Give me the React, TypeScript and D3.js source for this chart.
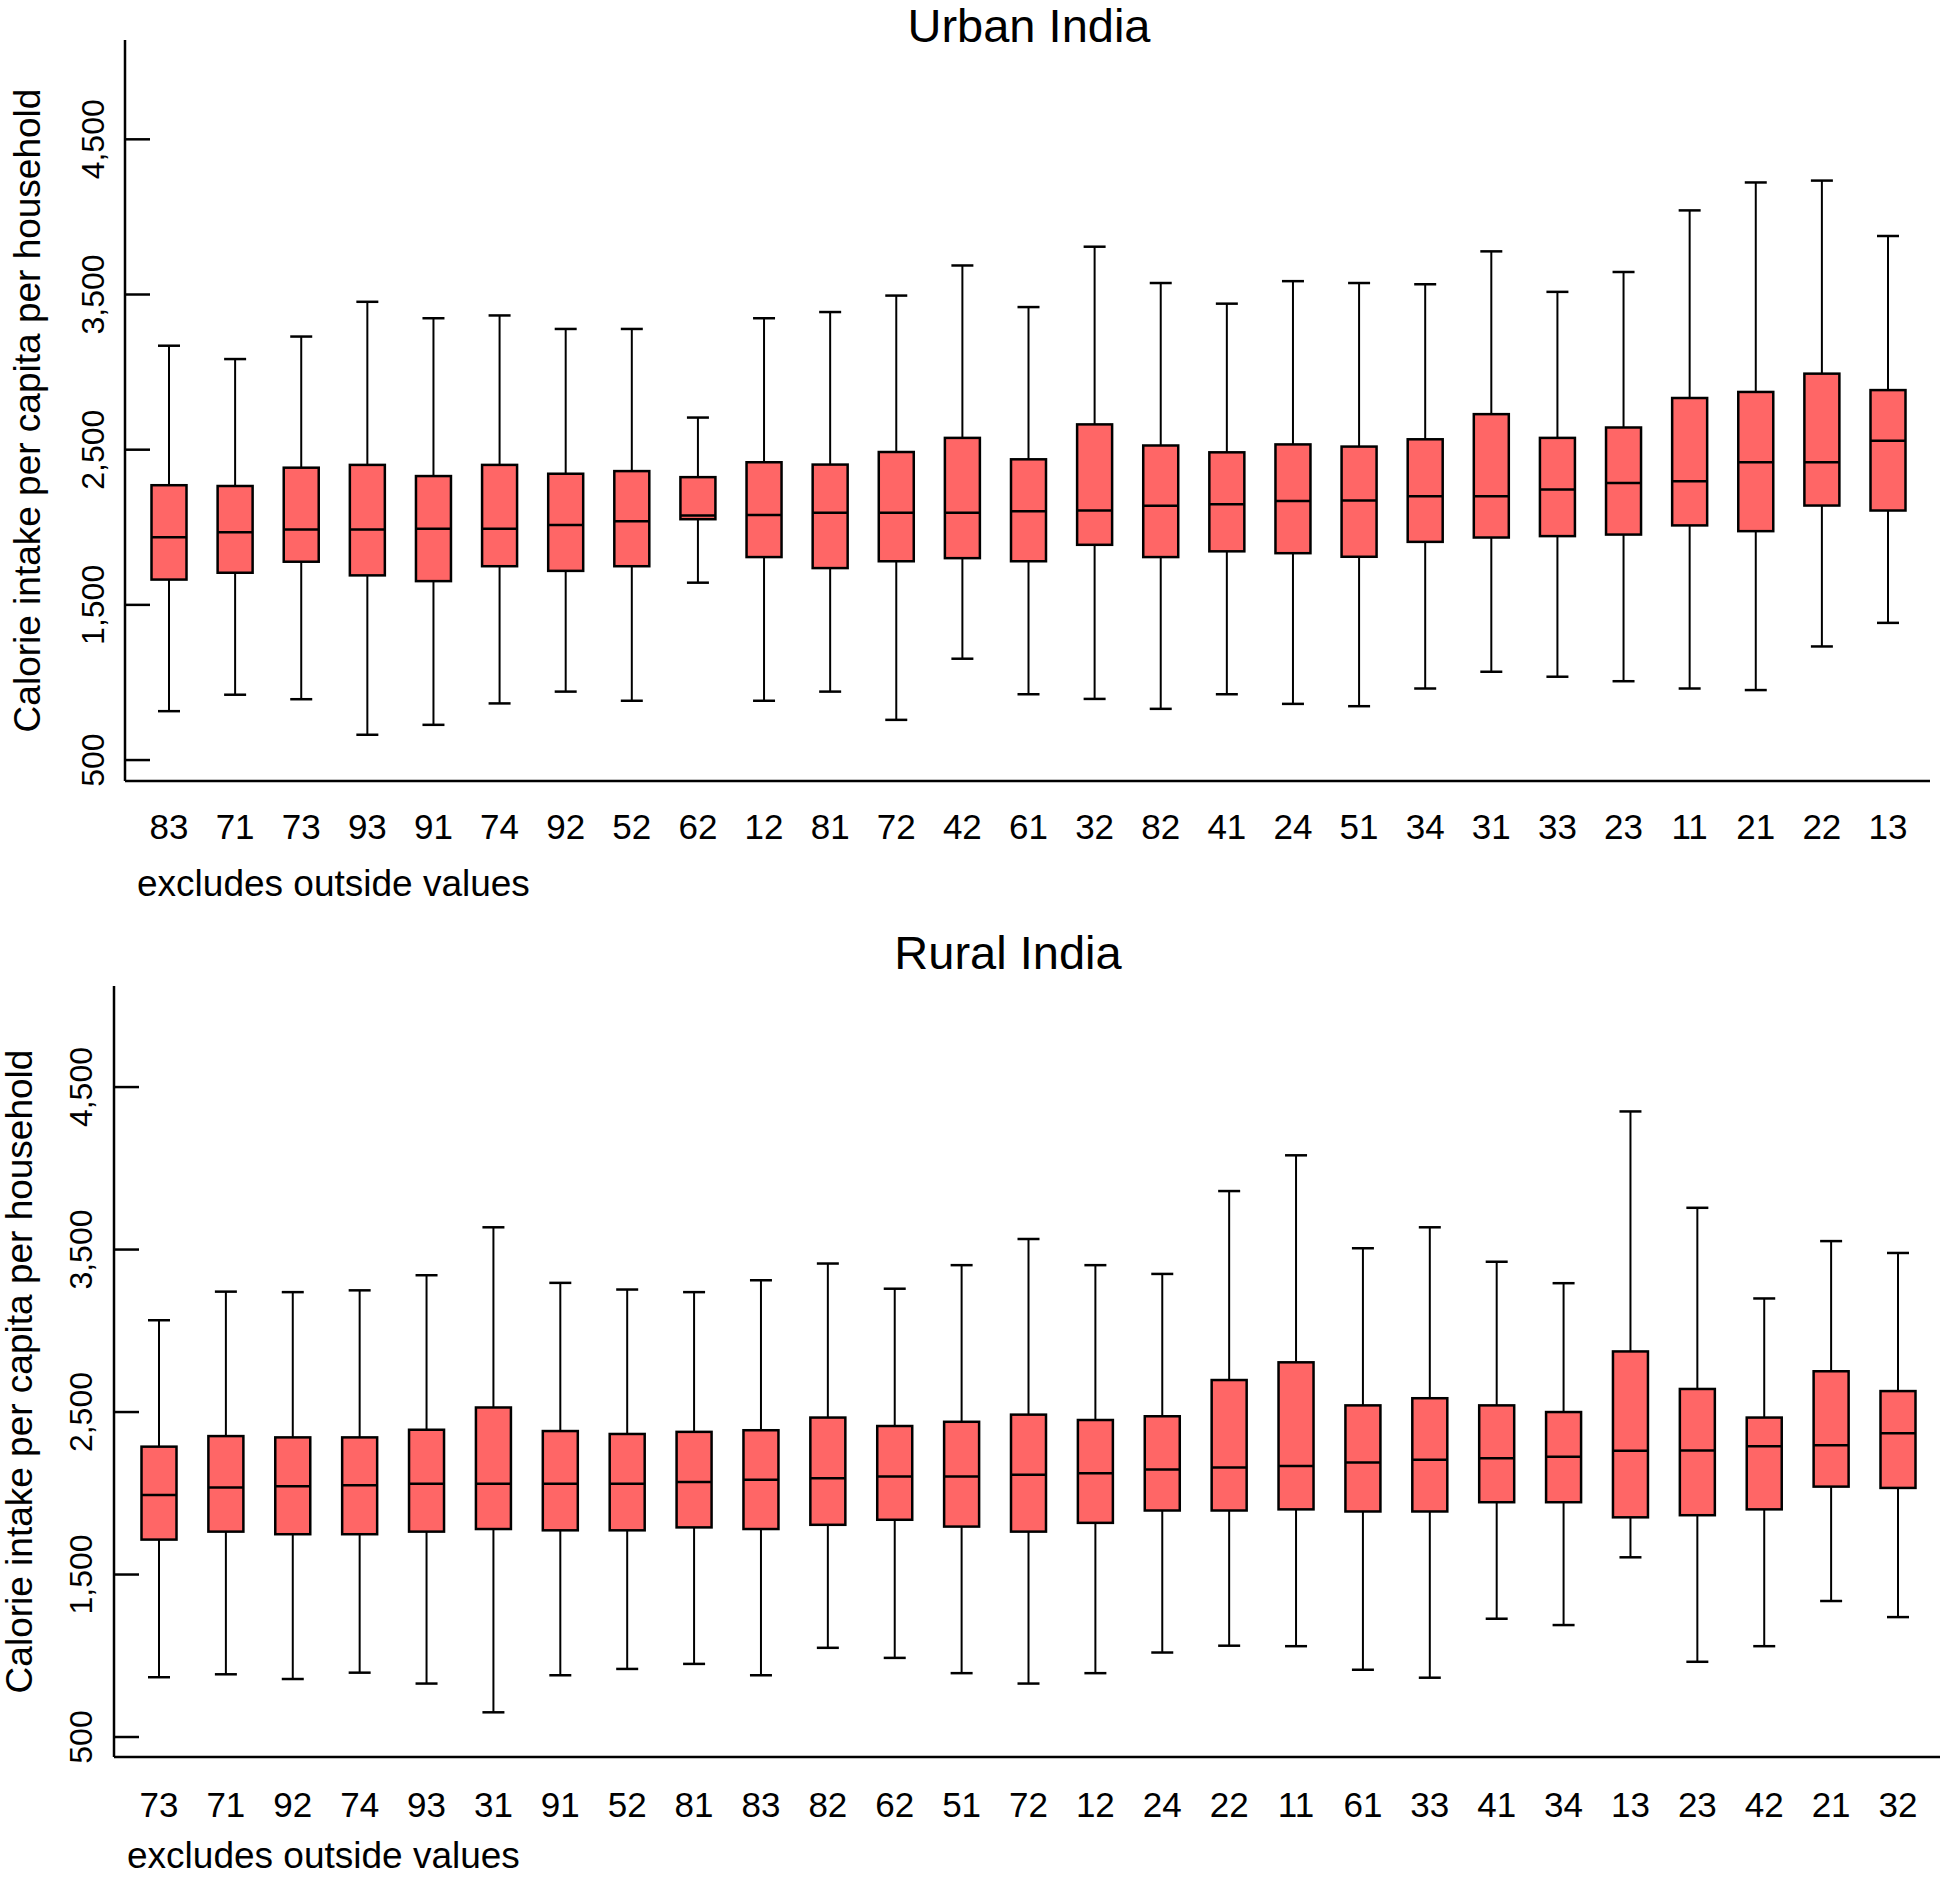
import React from "react";
import * as d3 from "d3";

const urbanCats = ["83","71","73","93","91","74","92","52","62","12","81","72","42","61","32","82","41","24","51","34","31","33","23","11","21","22","13"];
const urbanLow = [815,921,892,663,727,865,941,882,1643,882,941,759,1153,924,894,830,924,862,847,961,1069,1037,1008,961,951,1232,1384];
const urbanQ1 = [1663,1707,1778,1690,1653,1749,1719,1749,2052,1808,1737,1781,1801,1781,1887,1808,1845,1833,1810,1906,1934,1943,1953,2012,1975,2140,2108];
const urbanMed = [1936,1968,1985,1985,1990,1990,2015,2039,2076,2079,2094,2094,2094,2104,2108,2138,2148,2170,2172,2200,2200,2244,2286,2296,2419,2419,2557];
const urbanQ3 = [2271,2266,2384,2402,2330,2402,2345,2362,2323,2419,2404,2485,2576,2438,2663,2527,2483,2534,2520,2567,2729,2576,2643,2833,2872,2990,2884];
const urbanHigh = [3170,3084,3229,3453,3347,3365,3278,3278,2707,3347,3387,3493,3687,3419,3808,3574,3441,3586,3574,3566,3778,3517,3645,4042,4222,4234,3877];

const ruralCats = ["73","71","92","74","93","31","91","52","81","83","82","62","51","72","12","24","22","11","61","33","41","34","13","23","42","21","32"];
const ruralLow = [868,886,857,896,829,652,880,919,950,880,1049,987,893,829,893,1020,1062,1059,914,865,1228,1189,1606,963,1059,1337,1238];
const ruralQ1 = [1715,1764,1748,1748,1764,1780,1772,1772,1790,1780,1806,1837,1795,1764,1818,1894,1894,1901,1888,1888,1945,1945,1852,1865,1901,2041,2033];
const ruralMed = [1989,2036,2044,2049,2059,2059,2059,2059,2070,2083,2093,2103,2103,2114,2124,2147,2158,2168,2189,2207,2215,2225,2262,2264,2290,2295,2370];
const ruralQ3 = [2287,2352,2344,2344,2391,2528,2383,2365,2378,2388,2466,2414,2440,2484,2451,2474,2697,2806,2541,2585,2541,2500,2873,2642,2466,2751,2629];
const ruralHigh = [3065,3241,3238,3249,3342,3637,3295,3254,3238,3311,3414,3259,3404,3565,3404,3350,3860,4080,3508,3637,3425,3293,4350,3757,3199,3552,3479];

const yTicks = [500, 1500, 2500, 3500, 4500];
const yAxisTitle = "Calorie intake per capita per household";
const noteText = "excludes outside values";

const FONT = "'Liberation Sans', Arial, Helvetica, sans-serif";
const FILL = "#ff6666";

type PanelProps = {
  title: string;
  cats: string[];
  low: number[];
  q1: number[];
  med: number[];
  q3: number[];
  high: number[];
  axisX: number;
  axisRight: number;
  firstX: number;
  lastX: number;
  yTop: number;
  yBottom: number;
  vMin: number;
  vMax: number;
  titleX: number;
  titleY: number;
  catY: number;
  noteX: number;
  noteY: number;
  yTitleX: number;
  tickLabelX: number;
};

function Panel(p: PanelProps) {
  const x = d3.scalePoint<string>().domain(p.cats).range([p.firstX, p.lastX]);
  const y = d3.scaleLinear().domain([p.vMin, p.vMax]).range([p.yBottom, p.yTop]);
  const fmt = d3.format(",");
  const boxW = 35;
  const capW = 22;
  const yMid = (p.yTop + p.yBottom) / 2;
  return (
    <g>
      <text x={p.titleX} y={p.titleY} textAnchor="middle" fontSize={47} fontFamily={FONT} fill="#000">
        {p.title}
      </text>
      <line x1={p.axisX} x2={p.axisX} y1={p.yTop} y2={p.yBottom} stroke="#000" strokeWidth={2.5} />
      <line x1={p.axisX} x2={p.axisRight} y1={p.yBottom} y2={p.yBottom} stroke="#000" strokeWidth={2.5} />
      {yTicks.map((t) => (
        <g key={t}>
          <line x1={p.axisX} x2={p.axisX + 25} y1={y(t)} y2={y(t)} stroke="#000" strokeWidth={2.5} />
          <text
            transform={`translate(${p.tickLabelX},${y(t)}) rotate(-90)`}
            textAnchor="middle"
            fontSize={32}
            fontFamily={FONT}
            fill="#000"
          >
            {fmt(t)}
          </text>
        </g>
      ))}
      <text
        transform={`translate(${p.yTitleX},${yMid}) rotate(-90)`}
        textAnchor="middle"
        fontSize={37}
        fontFamily={FONT}
        fill="#000"
      >
        {yAxisTitle}
      </text>
      {p.cats.map((c, i) => {
        const cx = x(c) as number;
        return (
          <g key={c}>
            <line x1={cx} x2={cx} y1={y(p.high[i])} y2={y(p.q3[i])} stroke="#000" strokeWidth={2} />
            <line x1={cx} x2={cx} y1={y(p.q1[i])} y2={y(p.low[i])} stroke="#000" strokeWidth={2} />
            <line x1={cx - capW / 2} x2={cx + capW / 2} y1={y(p.high[i])} y2={y(p.high[i])} stroke="#000" strokeWidth={2.5} />
            <line x1={cx - capW / 2} x2={cx + capW / 2} y1={y(p.low[i])} y2={y(p.low[i])} stroke="#000" strokeWidth={2.5} />
            <rect
              x={cx - boxW / 2}
              y={y(p.q3[i])}
              width={boxW}
              height={y(p.q1[i]) - y(p.q3[i])}
              fill={FILL}
              stroke="#000"
              strokeWidth={2.5}
            />
            <line x1={cx - boxW / 2} x2={cx + boxW / 2} y1={y(p.med[i])} y2={y(p.med[i])} stroke="#000" strokeWidth={2.5} />
            <text x={cx} y={p.catY} textAnchor="middle" fontSize={35} fontFamily={FONT} fill="#000">
              {c}
            </text>
          </g>
        );
      })}
      <text x={p.noteX} y={p.noteY} fontSize={37} fontFamily={FONT} fill="#000">
        {noteText}
      </text>
    </g>
  );
}

export default function App() {
  return (
    <div>
      <style>{`body{margin:0;background:#fff;}`}</style>
      <svg width={1946} height={1877} viewBox="0 0 1946 1877" style={{ display: "block", background: "#fff" }}>
        <Panel
          title="Urban India"
          cats={urbanCats}
          low={urbanLow}
          q1={urbanQ1}
          med={urbanMed}
          q3={urbanQ3}
          high={urbanHigh}
          axisX={125}
          axisRight={1930}
          firstX={169}
          lastX={1888}
          yTop={40}
          yBottom={781}
          vMin={365}
          vMax={5140}
          titleX={1029}
          titleY={42}
          catY={839}
          noteX={137}
          noteY={896}
          yTitleX={40}
          tickLabelX={104}
        />
        <Panel
          title="Rural India"
          cats={ruralCats}
          low={ruralLow}
          q1={ruralQ1}
          med={ruralMed}
          q3={ruralQ3}
          high={ruralHigh}
          axisX={114}
          axisRight={1940}
          firstX={159}
          lastX={1898}
          yTop={986}
          yBottom={1757}
          vMin={377}
          vMax={5122}
          titleX={1008}
          titleY={969}
          catY={1817}
          noteX={127}
          noteY={1868}
          yTitleX={32}
          tickLabelX={92}
        />
      </svg>
    </div>
  );
}
